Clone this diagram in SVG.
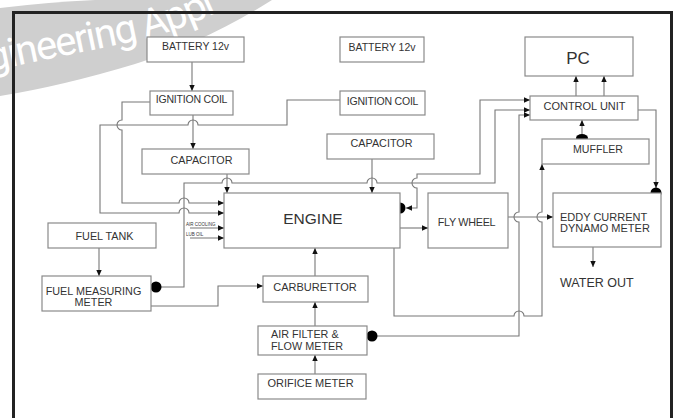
<svg xmlns="http://www.w3.org/2000/svg" width="677" height="418" viewBox="0 0 677 418">
<defs>
<style>
.box{fill:#fff;stroke:#8a8a8a;stroke-width:1.2}
.ln{fill:none;stroke:#777;stroke-width:1.1}
.t{font-family:"Liberation Sans",Arial,sans-serif;fill:#333}
.c{text-anchor:middle}
.dot{fill:#000}
</style>
<marker id="ar" markerUnits="userSpaceOnUse" markerWidth="6" markerHeight="6" viewBox="0 0 6 6" refX="6" refY="3" orient="auto-start-reverse">
<path d="M0,0.3 L6,3 L0,5.7 Z" fill="#111"/>
</marker>
</defs>
<rect width="677" height="418" fill="#fff"/>
<g id="watermark">
<path d="M0,8 Q50,2 95,0 L272,0 Q205,42 135,64 Q62,86 0,96 Z" fill="#cfcfcf"/>
<path id="wmp" d="M-110,92 L140,40 Q195,27 265,-12" fill="none"/>
<text font-family="Roboto,'Liberation Sans',sans-serif" font-size="40" letter-spacing="-1.5" fill="#fff"><textPath href="#wmp" startOffset="60">Engineering Appl</textPath></text>
</g>
<rect x="13.5" y="12.5" width="658" height="420" fill="none" stroke="#222" stroke-width="3"/>
<g id="connectors">
<path class="ln" d="M192,62 V91" marker-end="url(#ar)"/>
<path class="ln" d="M193,115 V149" marker-end="url(#ar)"/>
<path class="ln" d="M150,102 H122 V120 a5,5 0 0 0 0,10 V203 H179 a5,5 0 0 1 10,0 H224" marker-end="url(#ar)"/>
<path class="ln" d="M340,100 H287 V125 H198 a5,5 0 0 0 -10,0 H100 V213 H179 a5,5 0 0 1 10,0 H224" marker-end="url(#ar)"/>
<path class="ln" d="M227,174 V193" marker-end="url(#ar)"/>
<path class="ln" d="M372,159 V193" marker-end="url(#ar)"/>
<path class="ln" d="M161,287 H184 V183 H222 a5,5 0 0 1 10,0 H367 a5,5 0 0 1 10,0 H495 V110 H530" marker-end="url(#ar)"/>
<path class="ln" d="M406,208 H417 V188 a5,5 0 0 1 0,-10 V174 H480 V100 H530" marker-start="url(#ar)" marker-end="url(#ar)"/>
<path class="ln" d="M377,336 H519 V222 a5,5 0 0 1 0,-10 V115 H530" marker-end="url(#ar)"/>
<path class="ln" d="M394,248 V316 H514 a5,5 0 0 1 10,0 H542 V222 a5,5 0 0 1 0,-10 V164" marker-end="url(#ar)"/>
<path class="ln" d="M400,228 H428" marker-end="url(#ar)"/>
<path class="ln" d="M508,217 H553" marker-end="url(#ar)"/>
<path class="ln" d="M576,96 V76" marker-end="url(#ar)"/>
<path class="ln" d="M604,96 V76" marker-end="url(#ar)"/>
<path class="ln" d="M582,134 V120" marker-end="url(#ar)"/>
<path class="ln" d="M638,110 H656 V188" marker-end="url(#ar)"/>
<path class="ln" d="M593,247 V267" marker-end="url(#ar)"/>
<path class="ln" d="M99,248 V276" marker-end="url(#ar)"/>
<path class="ln" d="M151,306 H218 V286 H263" marker-end="url(#ar)"/>
<path class="ln" d="M315,276 V248" marker-end="url(#ar)"/>
<path class="ln" d="M315,326 V302" marker-end="url(#ar)"/>
<path class="ln" d="M315,374 V355" marker-end="url(#ar)"/>
<path class="ln" d="M190,228 H224" marker-end="url(#ar)"/>
<path class="ln" d="M190,238 H224" marker-end="url(#ar)"/>
<text class="t" x="186" y="225.5" font-size="4.5">AIR COOLING</text>
<text class="t" x="186" y="235.5" font-size="4.5">LUB OIL</text>
<circle class="dot" cx="156" cy="287" r="5.5"/>
<circle class="dot" cx="400" cy="208" r="5.5"/>
<circle class="dot" cx="372" cy="336" r="5.5"/>
<ellipse class="dot" cx="582" cy="138" rx="6" ry="4"/>
<circle class="dot" cx="656" cy="193" r="5.5"/>
</g>
<g id="battery1"><rect class="box" x="147" y="37" width="97" height="25"/><text class="t c" x="195.5" y="50" font-size="10.5">BATTERY 12v</text></g>
<g id="ignition1"><rect class="box" x="150" y="91" width="83" height="24"/><text class="t c" x="191.5" y="103" font-size="10.5" letter-spacing="-0.2">IGNITION COIL</text></g>
<g id="capacitor1"><rect class="box" x="142" y="149" width="107" height="25"/><text class="t c" x="201.5" y="164" font-size="10.8">CAPACITOR</text></g>
<g id="battery2"><rect class="box" x="340" y="37" width="84" height="25"/><text class="t c" x="382" y="51" font-size="10.5">BATTERY 12v</text></g>
<g id="ignition2"><rect class="box" x="340" y="91" width="85" height="24"/><text class="t c" x="382.5" y="105" font-size="10.5" letter-spacing="-0.2">IGNITION COIL</text></g>
<g id="capacitor2"><rect class="box" x="327" y="134" width="107" height="25"/><text class="t c" x="381.5" y="147" font-size="10.8">CAPACITOR</text></g>
<g id="pc"><rect class="box" x="525" y="37" width="108" height="39"/><text class="t c" x="578" y="64" font-size="17">PC</text></g>
<g id="control-unit"><rect class="box" x="530" y="96" width="108" height="24"/><text class="t c" x="584.5" y="110" font-size="11">CONTROL UNIT</text></g>
<g id="muffler"><rect class="box" x="542" y="139" width="107" height="25"/><text class="t c" x="598" y="153" font-size="10.6">MUFFLER</text></g>
<g id="engine"><rect class="box" x="224" y="193" width="176" height="55"/><text class="t c" x="313" y="223.5" font-size="15.5">ENGINE</text></g>
<g id="flywheel"><rect class="box" x="428" y="193" width="80" height="55"/><text class="t c" x="466.5" y="226" font-size="10.8" letter-spacing="-0.3">FLY WHEEL</text></g>
<g id="eddy-current"><rect class="box" x="553" y="193" width="108" height="54"/><text class="t" x="560" y="221" font-size="11">EDDY CURRENT</text><text class="t" x="560" y="232" font-size="11">DYNAMO METER</text></g>
<g id="water-out"><text class="t" x="560" y="286.5" font-size="12.5">WATER OUT</text></g>
<g id="fuel-tank"><rect class="box" x="48" y="223" width="108" height="25"/><text class="t c" x="104.5" y="240" font-size="10.8">FUEL TANK</text></g>
<g id="fuel-measuring"><rect class="box" x="42" y="276" width="109" height="35"/><text class="t c" x="93.5" y="295" font-size="10.8">FUEL MEASURING</text><text class="t c" x="93.5" y="306" font-size="10.8">METER</text></g>
<g id="carburettor"><rect class="box" x="263" y="276" width="105" height="26"/><text class="t c" x="315" y="291" font-size="11">CARBURETTOR</text></g>
<g id="air-filter"><rect class="box" x="258" y="326" width="109" height="29"/><text class="t" x="271" y="338" font-size="10.8">AIR FILTER &amp;</text><text class="t" x="271" y="350" font-size="10.8">FLOW METER</text></g>
<g id="orifice-meter"><rect class="box" x="258" y="374" width="108" height="25"/><text class="t c" x="310.5" y="387" font-size="11">ORIFICE METER</text></g>
</svg>
